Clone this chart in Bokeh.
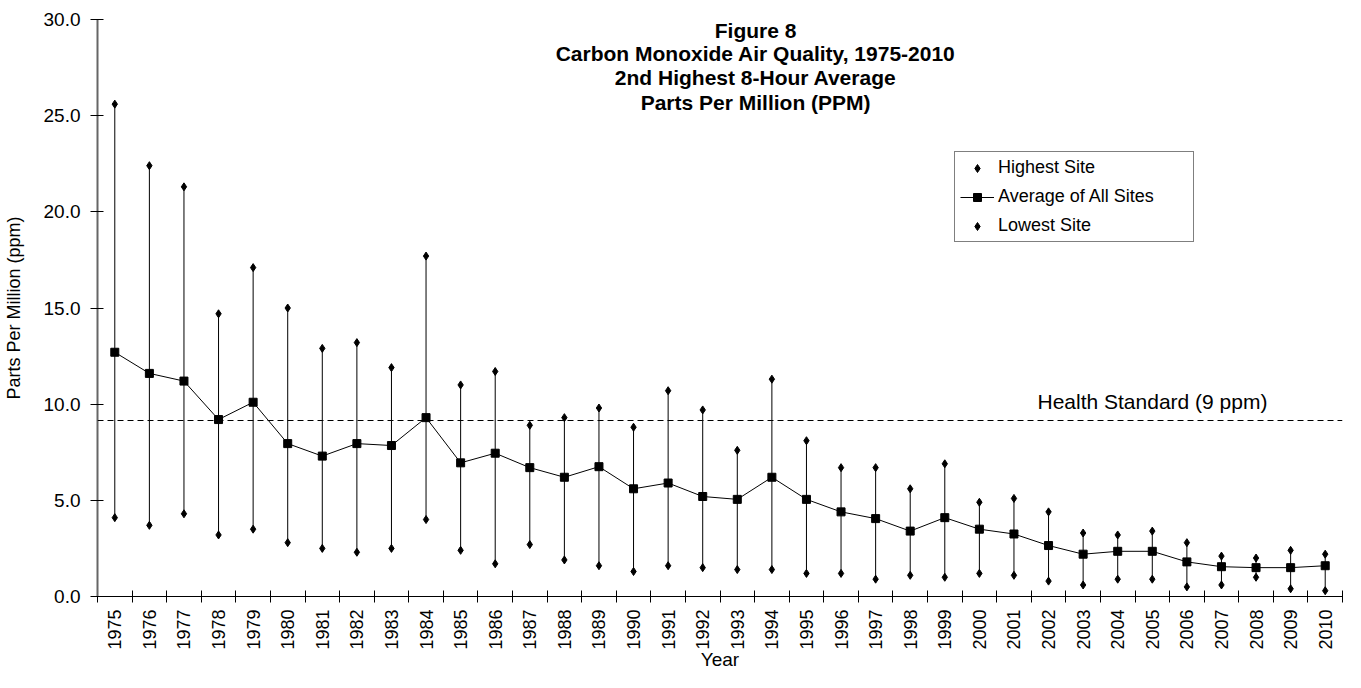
from math import pi
from bokeh.plotting import figure
from bokeh.models import (Range1d, FixedTicker, Label, Span, Legend, LegendItem,
                          NumeralTickFormatter)
from bokeh.embed import file_html
from bokeh.resources import INLINE

# ---------------- data ----------------
years = [1975, 1976, 1977, 1978, 1979, 1980, 1981, 1982, 1983, 1984,
         1985, 1986, 1987, 1988, 1989, 1990, 1991, 1992, 1993, 1994,
         1995, 1996, 1997, 1998, 1999, 2000, 2001, 2002, 2003, 2004,
         2005, 2006, 2007, 2008, 2009, 2010]
highest = [25.6, 22.4, 21.3, 14.7, 17.1, 15.0, 12.9, 13.2, 11.9, 17.7,
           11.0, 11.7, 8.9, 9.3, 9.8, 8.8, 10.7, 9.7, 7.6, 11.3,
           8.1, 6.7, 6.7, 5.6, 6.9, 4.9, 5.1, 4.4, 3.3, 3.2,
           3.4, 2.8, 2.1, 2.0, 2.4, 2.2]
average = [12.7, 11.6, 11.2, 9.2, 10.1, 7.95, 7.3, 7.95, 7.85, 9.3,
           6.95, 7.45, 6.7, 6.2, 6.75, 5.6, 5.9, 5.2, 5.05, 6.2,
           5.05, 4.4, 4.05, 3.4, 4.1, 3.5, 3.25, 2.65, 2.2, 2.35,
           2.35, 1.8, 1.55, 1.5, 1.5, 1.6]
lowest = [4.1, 3.7, 4.3, 3.2, 3.5, 2.8, 2.5, 2.3, 2.5, 4.0,
          2.4, 1.7, 2.7, 1.9, 1.6, 1.3, 1.6, 1.5, 1.4, 1.4,
          1.2, 1.2, 0.9, 1.1, 1.0, 1.2, 1.1, 0.8, 0.6, 0.9,
          0.9, 0.5, 0.6, 1.0, 0.4, 0.3]
y_ticks = [0, 5, 10, 15, 20, 25, 30]
health_standard = 9.15
health_label = "Health Standard (9 ppm)"
title_lines = ["Figure 8",
               "Carbon Monoxide Air Quality, 1975-2010",
               "2nd Highest 8-Hour Average",
               "Parts Per Million (PPM)"]
series_names = ["Highest Site", "Average of All Sites", "Lowest Site"]
x_title = "Year"
y_title = "Parts Per Million (ppm)"

FONT = "Liberation Sans"

p = figure(width=1345, height=672,
           x_range=Range1d(years[0] - 0.5, years[-1] + 0.5),
           y_range=Range1d(0, 30),
           output_backend="svg", toolbar_location=None,
           min_border_left=97, min_border_right=3,
           min_border_top=19, min_border_bottom=76)
p.outline_line_color = None
p.grid.visible = False
p.background_fill_color = "white"

# x axis: labels at year centres, ticks at boundaries
xa = p.xaxis[0]
xa.ticker = FixedTicker(ticks=years,
                        minor_ticks=[y - 0.5 for y in years] + [years[-1] + 0.5])
xa.major_tick_in = 0
xa.major_tick_out = 0
xa.minor_tick_in = 6
xa.minor_tick_out = 6
xa.minor_tick_line_color = "black"
xa.axis_line_color = "black"
xa.major_label_orientation = pi / 2
xa.major_label_standoff = 7
xa.major_label_text_font = FONT
xa.major_label_text_font_size = "18px"
xa.major_label_text_color = "black"
xa.axis_label = x_title
xa.axis_label_text_font = FONT
xa.axis_label_text_font_size = "19px"
xa.axis_label_text_font_style = "normal"
xa.axis_label_text_color = "black"
xa.axis_label_standoff = -4

ya = p.yaxis[0]
ya.ticker = FixedTicker(ticks=y_ticks, minor_ticks=[])
ya.formatter = NumeralTickFormatter(format="0.0")
ya.major_tick_in = 6
ya.major_tick_out = 7
ya.major_tick_line_color = "black"
ya.axis_line_color = "#666666"
ya.axis_line_width = 2
ya.major_label_standoff = 10
ya.major_label_text_font = FONT
ya.major_label_text_font_size = "19px"
ya.major_label_text_color = "black"
ya.axis_label = y_title
ya.axis_label_text_font = FONT
ya.axis_label_text_font_size = "18px"
ya.axis_label_text_font_style = "normal"
ya.axis_label_text_color = "black"
ya.axis_label_standoff = 17

# health standard
p.add_layout(Span(location=health_standard, dimension="width",
                  line_color="black", line_width=1, line_dash="6 4"))
p.add_layout(Label(x=2001.68, y=10.16, text=health_label, text_align="left",
                   text_baseline="middle", text_font=FONT,
                   text_font_size="21px", text_color="black"))

# whiskers and markers
p.segment(x0=years, y0=lowest, x1=years, y1=highest,
          line_color="black", line_width=1)
r_high = p.scatter(years, highest, marker="diamond", size=8,
                   color="black")
r_low = p.scatter(years, lowest, marker="diamond", size=8,
                  color="black")
r_line = p.line(years, average, line_color="black", line_width=1)
r_sq = p.scatter(years, average, marker="square", size=8, color="black")

# title
title_y = [29.43, 28.22, 26.97, 25.70]
for txt, ty in zip(title_lines, title_y):
    p.add_layout(Label(x=1993.53, y=ty, text=txt, text_align="center",
                       text_baseline="middle", text_font=FONT,
                       text_font_style="bold", text_font_size="21px",
                       text_color="black"))

legend = Legend(items=[LegendItem(label=series_names[0], renderers=[r_high]),
                       LegendItem(label=series_names[1], renderers=[r_line, r_sq]),
                       LegendItem(label=series_names[2], renderers=[r_low])],
                location=(857, 354),
                border_line_color="black", border_line_width=1,
                background_fill_color="white", background_fill_alpha=1,
                padding=5, spacing=8, margin=0,
                glyph_width=34, glyph_height=20, label_height=20,
                label_width=190, label_standoff=4,
                label_text_font=FONT, label_text_font_size="18px",
                label_text_color="black")
p.add_layout(legend)

open("out.html", "w").write(file_html(p, INLINE))
